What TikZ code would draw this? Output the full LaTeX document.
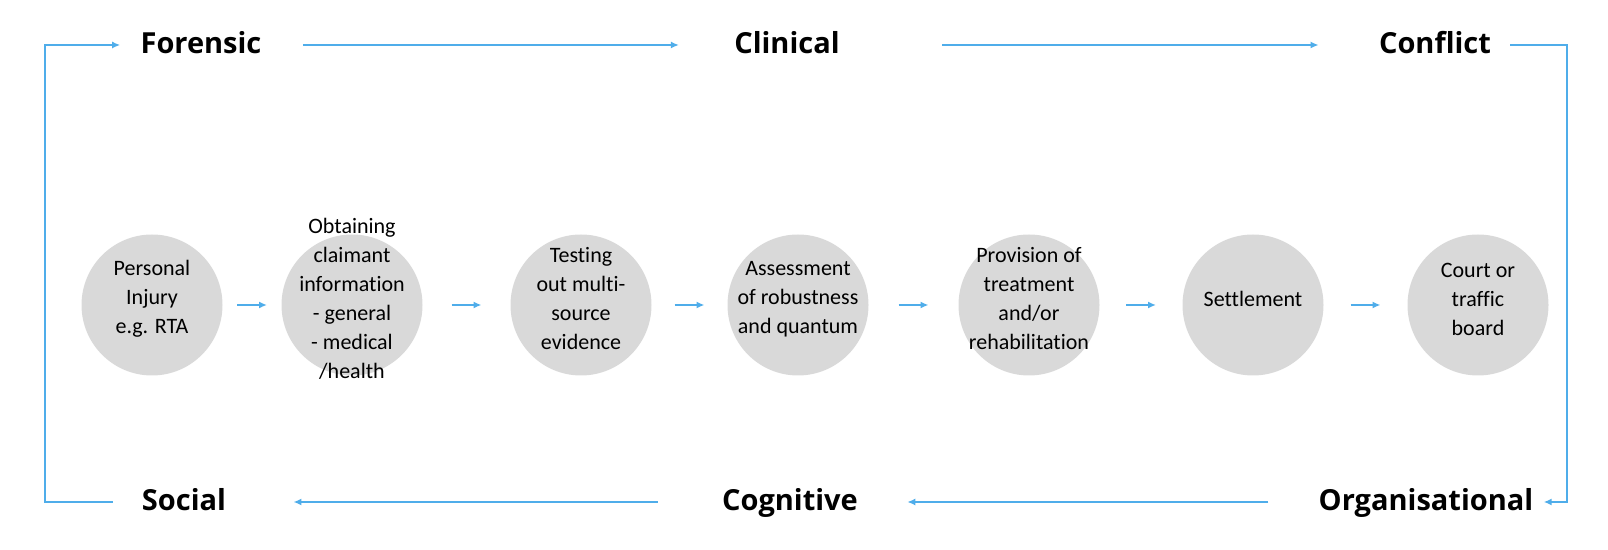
\documentclass[tikz,border=0pt]{standalone}
\usepackage{fontspec}
\setmainfont{Carlito}[Ligatures=NoCommon]
\newfontfamily\headfont{Open Sans}
\usetikzlibrary{positioning,calc,arrows.meta}
\definecolor{flowblue}{RGB}{79,173,234}
\definecolor{stagegrey}{RGB}{217,217,217}
\tikzset{
      stage/.style={circle,fill=stagegrey,minimum size=70.5pt,inner sep=0pt},
      stagetext/.style={align=center,inner sep=0pt,font=\fontsize{11}{14.5}\selectfont},
      field/.style={inner sep=0pt,text height=10pt,text depth=1.5pt,font=\headfont\bfseries\fontsize{14.5}{17}\selectfont},
      flow/.style={draw=flowblue,line width=1pt,-{Latex[length=4pt,width=3.5pt]}}
    }

\begin{document}
\begin{tikzpicture}[x=0.5pt,y=-0.5pt]
\useasboundingbox (0,0) rectangle (1608,550);
% the six fields round the edge
\node[field] (forensic) at (201,45) {Forensic};
\node[field] (clinical) at (787,45) {Clinical};
\node[field] (conflict) at (1435,45) {Conflict};
\node[field] (organisational) at (1426,502) {Organisational};
\node[field] (cognitive) at (790,502) {Cognitive};
\node[field] (social) at (184,502) {Social};
\coordinate (cornerNW) at (45,45);
\coordinate (cornerSW) at (45,502);
\coordinate (cornerNE) at (1567,45);
\coordinate (cornerSE) at (1567,502);
% the stages of a claim
\foreach \px[count=\i] in {152,352,581,798,1029,1253,1478}
\node[stage] (s\i) at (\px,305) {};
\node[stagetext] (t1) at ($(s1)+(0,-6)$) {Personal\\Injury\\e.g. RTA};
\node[stagetext] (t2) at ($(s2)+(0,-6)$) {Obtaining\\claimant\\information\\- general\\- medical\\/health};
\node[stagetext] (t3) at ($(s3)+(0,-6)$) {Testing\\out multi-\\source\\evidence};
\node[stagetext] (t4) at ($(s4)+(0,-6)$) {Assessment\\of robustness\\and quantum};
\node[stagetext] (t5) at ($(s5)+(0,-6)$) {Provision of\\treatment\\and/or\\rehabilitation};
\node[stagetext] (t6) at ($(s6)+(0,-6)$) {Settlement};
\node[stagetext] (t7) at ($(s7)+(0,-6)$) {Court or\\traffic\\board};
\foreach \a/\b in {s1/s2,s2/s3,s3/s4,s4/s5,s5/s6,s6/s7}
\draw[flow] ($(\a.east)!.5!(\b.west)+(-15,0)$) -- ($(\a.east)!.5!(\b.west)+(15,0)$);
% the loop round the fields
\draw[flow] ($(forensic.east)+(41,0)$) -- ($(clinical.west)+(-55,0)$);
\draw[flow] ($(clinical.east)+(102,0)$) -- ($(conflict.west)+(-60,0)$);
\draw[flow] ($(conflict.east)+(19,0)$) -- (cornerNE) -- (cornerSE) -- ($(organisational.east)+(10,0)$);
\draw[flow] ($(organisational.west)+(-50,0)$) -- ($(cognitive.east)+(49,0)$);
\draw[flow] ($(cognitive.west)+(-64,0)$) -- ($(social.east)+(67,0)$);
\draw[flow] ($(social.west)+(-29,0)$) -- (cornerSW) -- (cornerNW) -- ($(forensic.west)+(-20,0)$);
\end{tikzpicture}
\end{document}
